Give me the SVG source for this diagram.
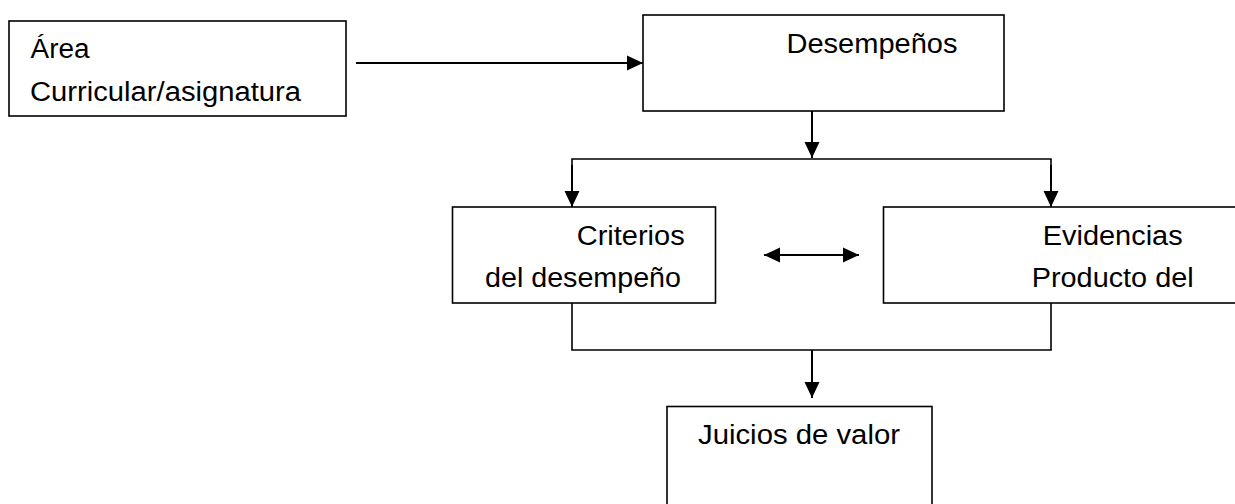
<svg xmlns="http://www.w3.org/2000/svg" width="1235" height="504" viewBox="0 0 1235 504">
  <style>
    .box { fill: #ffffff; stroke: #000000; stroke-width: 1.6; }
    .lbl { font-family: "Liberation Sans", Arial, sans-serif; font-size: 27px; fill: #000000; }
    .conn { fill: none; stroke: #000000; stroke-width: 2; }
    .thin { fill: none; stroke: #000000; stroke-width: 1.6; }
  </style>
  <defs>
    <marker id="arrow" markerUnits="userSpaceOnUse" markerWidth="16" markerHeight="16" viewBox="0 0 15 14" refX="15" refY="7" orient="auto-start-reverse">
      <path d="M0,0 L15,7 L0,14 Z" fill="#000000"/>
    </marker>
  </defs>
  <rect x="0" y="0" width="1235" height="504" fill="#ffffff"/>

  <g id="connectors">
    <line class="conn" x1="356" y1="63" x2="643" y2="63" marker-end="url(#arrow)"/>
    <line class="conn" x1="812" y1="111" x2="812" y2="158" marker-end="url(#arrow)"/>
    <polyline class="thin" points="572,207 572,159 1051,159 1051,207"/>
    <line class="conn" x1="572" y1="165" x2="572" y2="207" marker-end="url(#arrow)"/>
    <line class="conn" x1="1051" y1="165" x2="1051" y2="207" marker-end="url(#arrow)"/>
    <line class="conn" x1="764" y1="255" x2="859" y2="255" marker-start="url(#arrow)" marker-end="url(#arrow)"/>
    <polyline class="thin" points="572,303 572,350 1051,350 1051,303"/>
    <line class="conn" x1="812" y1="350" x2="812" y2="398" marker-end="url(#arrow)"/>
  </g>

  <g id="area">
    <rect class="box" x="9" y="21" width="337" height="95"/>
    <text class="lbl" x="30.5" y="57.5" textLength="59" lengthAdjust="spacingAndGlyphs">Área</text>
    <text class="lbl" x="30" y="100.5" textLength="271" lengthAdjust="spacingAndGlyphs">Curricular/asignatura</text>
  </g>

  <g id="desempenos">
    <rect class="box" x="643" y="15" width="361" height="96"/>
    <text class="lbl" x="786.5" y="53.3" textLength="171" lengthAdjust="spacingAndGlyphs">Desempeños</text>
  </g>

  <g id="criterios">
    <rect class="box" x="452.5" y="207" width="263" height="96"/>
    <text class="lbl" x="576.7" y="245" textLength="108" lengthAdjust="spacingAndGlyphs">Criterios</text>
    <text class="lbl" x="485" y="287" textLength="196" lengthAdjust="spacingAndGlyphs">del desempeño</text>
  </g>

  <g id="evidencias">
    <rect class="box" x="883.5" y="207" width="360" height="96"/>
    <text class="lbl" x="1042.7" y="245" textLength="140" lengthAdjust="spacingAndGlyphs">Evidencias</text>
    <text class="lbl" x="1031.7" y="287" textLength="162" lengthAdjust="spacingAndGlyphs">Producto del</text>
  </g>

  <g id="juicios">
    <rect class="box" x="667" y="406.5" width="265" height="110"/>
    <text class="lbl" x="698" y="444" textLength="202" lengthAdjust="spacingAndGlyphs">Juicios de valor</text>
  </g>
</svg>
